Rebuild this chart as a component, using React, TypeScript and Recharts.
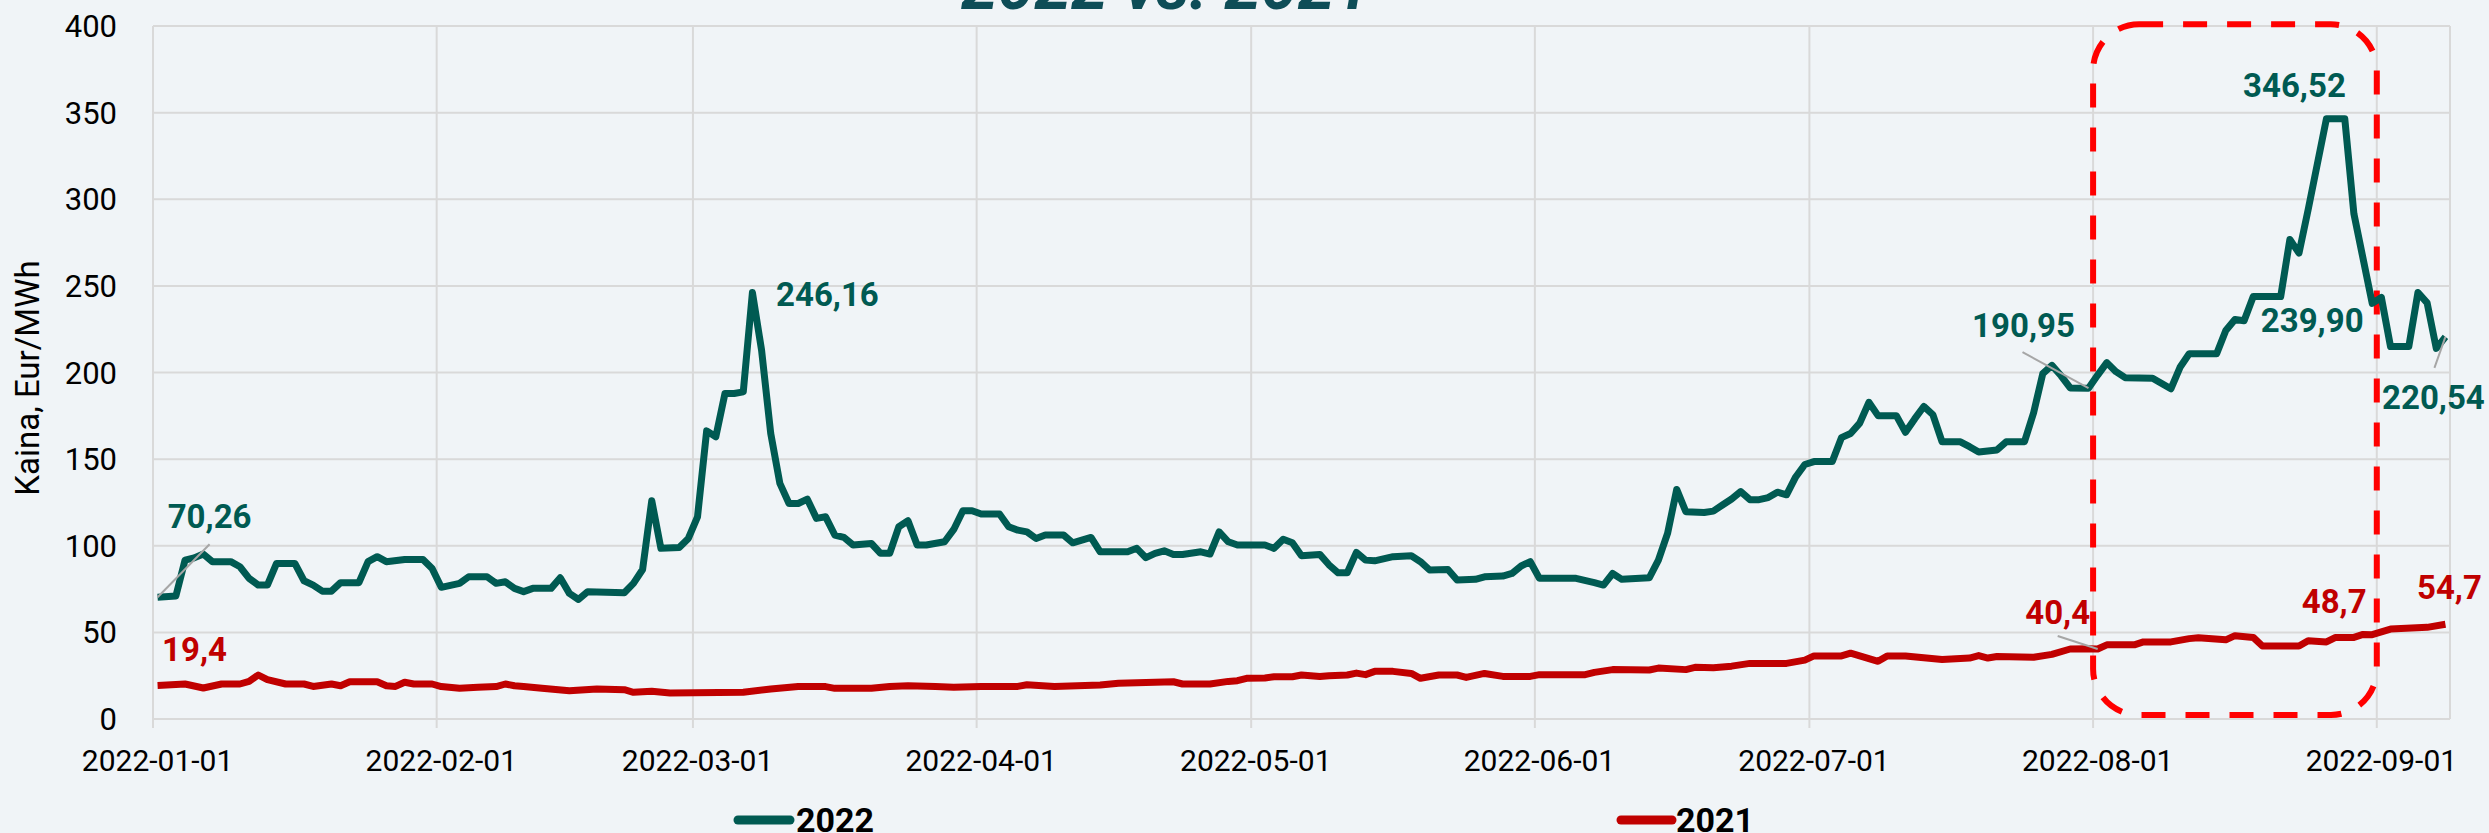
import { LineChart, Line, XAxis, YAxis, CartesianGrid, ReferenceArea } from 'recharts';

// day index counted from 2022-01-01, price in Eur/MWh
const prices2022: [number, number][] = [
  [0, 70.26], [2, 71], [3, 91.7], [4, 93], [5, 95.2], [6, 90.8], [8, 90.8], [9, 87.9], [10, 81.2],
  [11, 77.3], [12, 77.3], [13, 89.8], [15, 89.8], [16, 79.8], [17, 77.3], [18, 73.8], [19, 73.8],
  [20, 78.7], [22, 78.7], [23, 90.8], [24, 93.7], [25, 90.8], [27, 92.1], [29, 92.1], [30, 86.9],
  [31, 76], [33, 78.3], [34, 82.1], [36, 82.1], [37, 78.3], [38, 79.2], [39, 75.4], [40, 73.5],
  [41, 75.4], [43, 75.4], [44, 81.5], [45, 72.5], [46, 69], [47, 73.5], [51, 72.9], [52, 78.3],
  [53, 86.3], [54, 126], [55, 98.5], [57, 99], [58, 104.2], [59, 116.7], [60, 166.3], [61, 162.9],
  [62, 187.9], [63, 187.9], [64, 188.8], [65, 246.16], [66, 212.9], [67, 164.8], [68, 136],
  [69, 124.4], [70, 124.4], [71, 126.9], [72, 115.8], [73, 116.7], [74, 106.2], [75, 104.8],
  [76, 100.4], [78, 101.3], [79, 95.6], [80, 95.6], [81, 111], [82, 114.4], [83, 100.4], [84, 100.4],
  [86, 102.3], [87, 109.4], [88, 120.2], [89, 120.2], [90, 118.3], [92, 118.3], [93, 111], [94, 109],
  [95, 108], [96, 104.2], [97, 106.2], [99, 106.2], [100, 101.7], [101, 103.3], [102, 104.8],
  [103, 96.5], [106, 96.5], [107, 98.5], [108, 93.1], [109, 95.6], [110, 97.1], [111, 95], [112, 95],
  [114, 96.5], [115, 95.2], [116, 108], [117, 102.3], [118, 100.4], [121, 100.4], [122, 98.5],
  [123, 103.7], [124, 101.7], [125, 94.2], [127, 95], [128, 89], [129, 84.4], [130, 84.4], [131, 96.2],
  [132, 91.7], [133, 91.3], [135, 93.7], [137, 94.2], [138, 90.8], [139, 86], [141, 86.3], [142, 80.2],
  [144, 80.6], [145, 82.1], [147, 82.5], [148, 84], [149, 88.3], [150, 90.8], [151, 81.2], [155, 81.2],
  [157, 78.7], [158, 77.3], [159, 84], [160, 80.6], [163, 81.5], [164, 91.7], [165, 107.1],
  [166, 132.5], [167, 119.6], [169, 119.2], [170, 120], [171, 123.5], [172, 127], [173, 131.3],
  [174, 126.6], [175, 126.6], [176, 127.8], [177, 130.9], [178, 129.4], [179, 139.7], [180, 146.9],
  [181, 148.6], [183, 148.6], [184, 162.4], [185, 164.8], [186, 170.8], [187, 182.8], [188, 175.1],
  [190, 175.1], [191, 165.5], [192, 173.2], [193, 180.4], [194, 175.6], [195, 160], [197, 160],
  [198, 157.2], [199, 154.1], [201, 155.3], [202, 160], [204, 160], [205, 176.8], [206, 199.3],
  [207, 204.1], [208, 198.1], [209, 191.1], [211, 190.95], [212, 198.5], [213, 205.7], [214, 200.5],
  [215, 197], [218, 196.7], [220, 190.6], [221, 203], [222, 210.8], [225, 210.8], [226, 224.2],
  [227, 230.6], [228, 229.9], [229, 243.8], [232, 243.8], [233, 276.8], [234, 268.9], [235, 294],
  [237, 346.52], [239, 346.52], [240, 291.6], [242, 239.9], [243, 243.3], [244, 215], [246, 215],
  [247, 246.2], [248, 240.2], [249, 213.9], [250, 220.54],
];

const prices2021: [number, number][] = [
  [0, 19.4], [3, 20.2], [5, 17.9], [7, 20.2], [9, 20.2], [10, 21.7], [11, 25.4], [12, 22.7], [14, 20.2],
  [16, 20.2], [17, 18.8], [19, 20.2], [20, 19.2], [21, 21.5], [24, 21.5], [25, 19.2], [26, 18.8],
  [27, 21.2], [28, 20.2], [30, 20.2], [31, 18.7], [33, 17.7], [35, 18.3], [37, 18.7], [38, 20.2],
  [39, 19.2], [40, 18.8], [42, 17.7], [45, 16.3], [48, 17.3], [51, 16.9], [52, 15.4], [54, 16], [56, 15],
  [64, 15.4], [67, 17.3], [70, 18.7], [73, 18.7], [74, 17.7], [78, 17.7], [80, 18.8], [82, 19.2],
  [85, 18.7], [87, 18.3], [90, 18.8], [94, 18.8], [95, 19.8], [98, 18.8], [103, 19.6], [105, 20.6],
  [111, 21.5], [112, 20.2], [115, 20.2], [117, 21.7], [118, 22.1], [119, 23.5], [121, 23.7],
  [122, 24.4], [124, 24.4], [125, 25.4], [127, 24.5], [128, 25], [130, 25.4], [131, 26.5], [132, 25.6],
  [133, 27.5], [135, 27.5], [137, 26.3], [138, 23.5], [140, 25.4], [142, 25.4], [143, 24], [145, 26.3],
  [147, 24.6], [150, 24.6], [151, 25.6], [156, 25.6], [157, 26.9], [159, 28.5], [163, 28.3],
  [164, 29.4], [167, 28.5], [168, 29.8], [170, 29.6], [172, 30.5], [174, 32.1], [178, 32.1], [180, 34],
  [181, 36.4], [184, 36.4], [185, 38], [188, 33.3], [189, 36.4], [191, 36.4], [195, 34.4], [198, 35.2],
  [199, 36.6], [200, 35.2], [201, 36.1], [205, 35.6], [207, 37.3], [209, 40.4], [211, 40.6],
  [212, 40.4], [213, 42.8], [216, 42.8], [217, 44.5], [220, 44.5], [222, 46.4], [223, 46.9],
  [226, 45.7], [227, 48.1], [229, 47.1], [230, 42.1], [234, 42.1], [235, 45.2], [237, 44.5],
  [238, 47.1], [240, 47.1], [241, 48.8], [242, 48.7], [244, 51.9], [248, 52.9], [250, 54.7],
];

const monthStarts = [0, 31, 59, 90, 120, 151, 181, 212, 243];
const monthLabels = ['2022-01-01', '2022-02-01', '2022-03-01', '2022-04-01', '2022-05-01', '2022-06-01', '2022-07-01', '2022-08-01', '2022-09-01'];
const yTicks = [0, 50, 100, 150, 200, 250, 300, 350, 400];
const seriesNames = ['2022', '2021'];
const titleText = '2022 vs. 2021';
const yLabel = 'Kaina, Eur/MWh';

const GREEN = '#005A52';
const RED = '#C00000';
const FONT = 'Roboto, "Noto Sans", sans-serif';

const data2022 = prices2022.map(([day, value]) => ({ day, value }));
const data2021 = prices2021.map(([day, value]) => ({ day, value }));

// label placement for the marked points (center x offset, baseline y offset, optional leader)
type LabelPos = { dx: number; dy: number; leader?: [number, number] };
const labels2022: Record<number, LabelPos> = {
  0: { dx: 52, dy: -69, leader: [52, -53] },
  65: { dx: 75, dy: 13 },
  211: { dx: -65, dy: -51, leader: [-66, -36] },
  237: { dx: -32, dy: -22 },
  242: { dx: -60, dy: 29 },
  250: { dx: -12, dy: 72, leader: [-11, 31] },
};
const labels2021: Record<number, LabelPos> = {
  0: { dx: 37, dy: -24 },
  212: { dx: -40, dy: -25, leader: [-40, -13] },
  242: { dx: -38, dy: -22 },
  250: { dx: 4, dy: -25 },
};

const makeLabel = (data: { day: number; value: number }[], cfg: Record<number, LabelPos>, color: string, digits: number) =>
  (props: any) => {
    const idx = props.index;
    const p = data[idx];
    if (!p) return null;
    const c = cfg[p.day];
    if (!c) return null;
    const x = props.x ?? props.viewBox?.x;
    const y = props.y ?? props.viewBox?.y;
    return (
      <g key={`lbl-${color}-${idx}`}>
        {c.leader && (
          <line x1={x} y1={y} x2={x + c.leader[0]} y2={y + c.leader[1]} stroke="#A6A6A6" strokeWidth={2} />
        )}
        <text x={x + c.dx} y={y + c.dy} textAnchor="middle" fill={color} fontSize={33} fontWeight={700} fontFamily={FONT}>
          {p.value.toFixed(digits).replace('.', ',')}
        </text>
      </g>
    );
  };

const XTick = (props: any) => {
  const { x, y, payload } = props;
  const i = monthStarts.indexOf(payload.value + 0.5);
  return (
    <text x={x + 4.6} y={y + 21} textAnchor="middle" fontSize={30} fontFamily={FONT} fill="#000">
      {monthLabels[i]}
    </text>
  );
};

const DashedBox = (props: any) => {
  const { x, y, width, height } = props;
  return (
    <rect x={x} y={y} width={width} height={height} rx={46} ry={46} fill="none"
      stroke="#FF0000" strokeWidth={6} strokeDasharray="24 20" />
  );
};

const App = () => {
  return (
    <div style={{ position: 'absolute', left: 0, top: 0, width: 2489, height: 833, background: '#F0F4F7', overflow: 'hidden' }}>
      <LineChart width={2489} height={833} margin={{ top: 26, right: 39, bottom: 54, left: 13 }}>
        <CartesianGrid stroke="#D9D9D9" strokeWidth={2} />
        <XAxis
          dataKey="day"
          type="number"
          domain={[-0.5, 250.5]}
          ticks={monthStarts.map((d) => d - 0.5)}
          interval={0}
          height={60}
          axisLine={false}
          tickLine={{ stroke: '#D9D9D9', strokeWidth: 2 }}
          tickSize={9}
          tickMargin={22}
          tick={<XTick />}
          allowDataOverflow
        />
        <YAxis
          domain={[0, 400]}
          ticks={yTicks}
          width={140}
          axisLine={false}
          tickLine={false}
          tickSize={6}
          tickMargin={30}
          tick={{ fontSize: 31, fill: '#000', fontFamily: FONT }}
        />
        <Line data={data2021} dataKey="value" name={seriesNames[1]} type="linear" stroke={RED} strokeWidth={7}
          strokeLinejoin="round" dot={false} isAnimationActive={false} label={makeLabel(data2021, labels2021, RED, 1)} />
        <Line data={data2022} dataKey="value" name={seriesNames[0]} type="linear" stroke={GREEN} strokeWidth={7}
          strokeLinejoin="round" dot={false} isAnimationActive={false} label={makeLabel(data2022, labels2022, GREEN, 2)} />
        <ReferenceArea x1={211.5} x2={242.5} y1={2.3} y2={401} ifOverflow="visible" shape={<DashedBox />} />
      </LineChart>
      <svg width={2489} height={833} style={{ position: 'absolute', left: 0, top: 0, pointerEvents: 'none' }}>
        <text x={1166} y={9} textAnchor="middle" fontSize={66} fontWeight={700} fontStyle="italic" fill="#0E4D57" fontFamily={FONT}>
          {titleText}
        </text>
        <text transform="rotate(-90)" x={-378} y={39} textAnchor="middle" fontSize={33} fill="#000" fontFamily={FONT}>
          {yLabel}
        </text>
        <line x1={738} y1={820} x2={790} y2={820} stroke={GREEN} strokeWidth={9} strokeLinecap="round" />
        <text x={796} y={832} fontSize={34} fontWeight={700} fill="#000" fontFamily={FONT}>{seriesNames[0]}</text>
        <line x1={1621} y1={820} x2={1672} y2={820} stroke={RED} strokeWidth={9} strokeLinecap="round" />
        <text x={1676} y={832} fontSize={34} fontWeight={700} fill="#000" fontFamily={FONT}>{seriesNames[1]}</text>
      </svg>
    </div>
  );
};

export default App;
